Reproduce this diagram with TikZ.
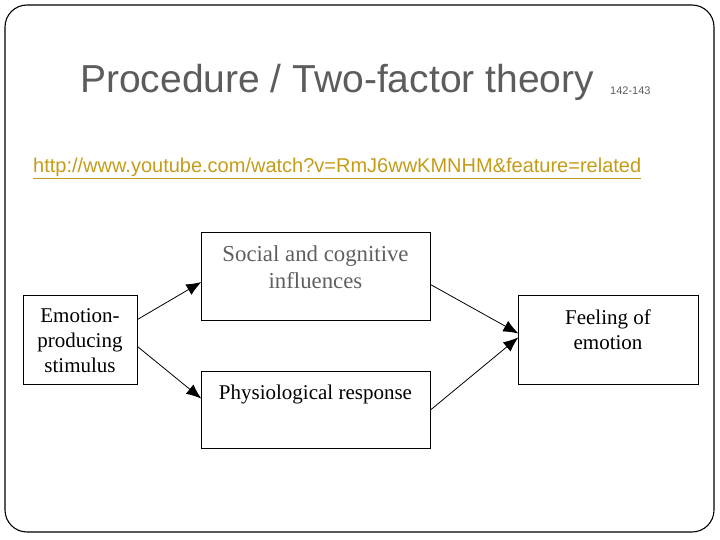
\documentclass[tikz,border=0pt]{standalone}
\usepackage{fontspec}
\setmainfont{Liberation Serif}
\newfontfamily\arialfont{Liberation Sans}
\usepackage{tikz}
\usetikzlibrary{arrows.meta,positioning}
\usepackage{xcolor}
\definecolor{titlegray}{RGB}{92, 92, 92}
\definecolor{linkgold}{RGB}{196, 156, 24}
\definecolor{textgray}{RGB}{95, 95, 95}

\begin{document}
\begin{tikzpicture}[x=1pt, y=-1pt, >={Latex[length=15pt, width=12pt]},
    box/.style={draw, line width=0.9pt, inner sep=0pt},
    boxtext/.style={font=\fontsize{21}{25}\selectfont, align=center, inner sep=0pt},
    link/.style={->, line width=0.8pt, shorten >=-1pt}]
    \useasboundingbox (0,0) rectangle (720,540);
    \draw[line width=1.1pt, rounded corners=22pt] (5,5) rectangle (714,532);
    % heading
    \node[anchor=base west, inner sep=0pt, text=titlegray,
      font=\arialfont\fontsize{39}{44}\selectfont] (title) at (80,93)
      {Procedure / Two-factor theory};
    \node[anchor=base west, inner sep=0pt, text=titlegray,
      font=\arialfont\fontsize{11}{12}\selectfont] (pages) at (610,95) {142-143};
    \node[anchor=base west, inner sep=0pt, text=linkgold,
      font=\arialfont\fontsize{20}{22}\selectfont] (url) at (33,173)
      {\underline{http://www.youtube.com/watch?v=RmJ6wwKMNHM\&feature=related}};
    % boxes
    \node[box, minimum width=114, minimum height=89] (stimulus) at (80,339.5) {};
    \node[box, minimum width=229, minimum height=88] (social) at (315.5,276.5) {};
    \node[box, minimum width=229, minimum height=77] (physio) at (315.5,410) {};
    \node[box, minimum width=180, minimum height=89] (feeling) at (608,339.5) {};
    \node[boxtext] (stimulustext) at ([yshift=-1pt]stimulus) {Emotion-\\producing\\stimulus};
    \node[boxtext, text=textgray, font=\fontsize{22.8}{27}\selectfont,
      below=13pt of social.north] (socialtext) {Social and cognitive\\influences};
    \node[boxtext, below=14pt of physio.north] (physiotext) {Physiological response};
    \node[boxtext, below=15pt of feeling.north] (feelingtext) {Feeling of\\emotion};
    % arrows
    \draw[link] ([yshift=20pt]stimulus.east) -- ([yshift=-6pt]social.west);
    \draw[link] ([yshift=-7pt]stimulus.east) -- ([yshift=12pt]physio.west);
    \draw[link] ([yshift=-8pt]social.east) -- ([yshift=6.5pt]feeling.west);
    \draw[link] ([yshift=0pt]physio.east) -- ([yshift=1.5pt]feeling.west);
  \end{tikzpicture}
\end{document}
